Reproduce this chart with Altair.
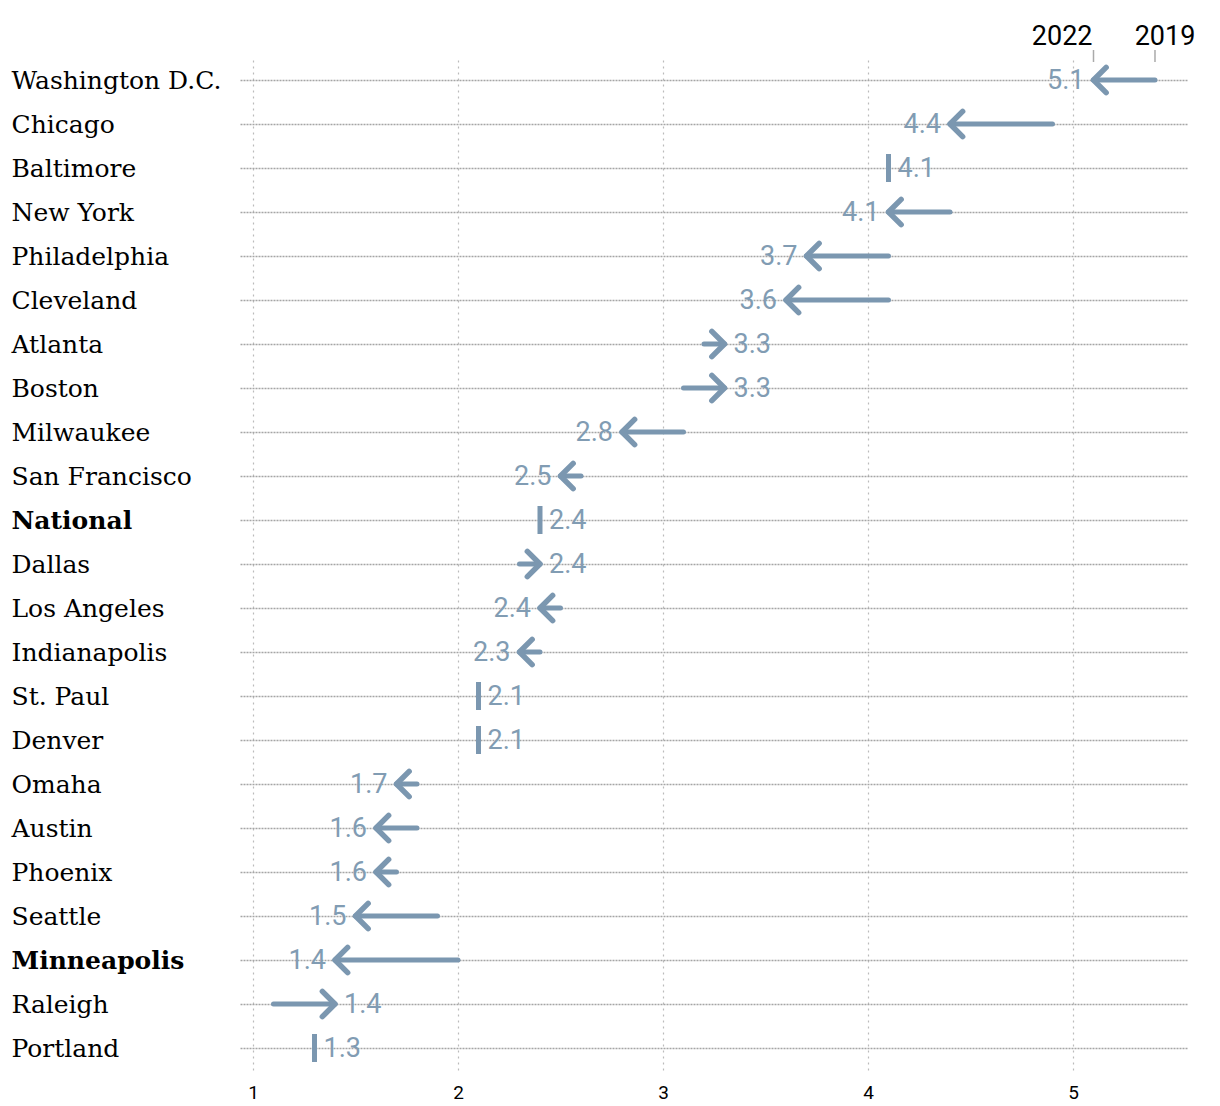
import altair as alt
import pandas as pd

cities = ["Washington D.C.", "Chicago", "Baltimore", "New York", "Philadelphia",
          "Cleveland", "Atlanta", "Boston", "Milwaukee", "San Francisco",
          "National", "Dallas", "Los Angeles", "Indianapolis", "St. Paul",
          "Denver", "Omaha", "Austin", "Phoenix", "Seattle", "Minneapolis",
          "Raleigh", "Portland"]
v2019 = [5.4, 4.9, 4.1, 4.4, 4.1, 4.1, 3.2, 3.1, 3.1, 2.6, 2.4, 2.3, 2.5, 2.4,
         2.1, 2.1, 1.8, 1.8, 1.7, 1.9, 2.0, 1.1, 1.3]
v2022 = [5.1, 4.4, 4.1, 4.1, 3.7, 3.6, 3.3, 3.3, 2.8, 2.5, 2.4, 2.4, 2.4, 2.3,
         2.1, 2.1, 1.7, 1.6, 1.6, 1.5, 1.4, 1.4, 1.3]
bold_rows = ["National", "Minneapolis"]
x_ticks = [1, 2, 3, 4, 5]
legend_years = ["2022", "2019"]

df = pd.DataFrame({"city": cities, "start": v2019, "end": v2022})
df["dir"] = ["down" if e < s else ("up" if e > s else "same") for s, e in zip(v2019, v2022)]

legend_df = pd.DataFrame({
    "year": legend_years,
    "x": [v2022[0], v2019[0]],
})

ARROW = "#7b97b0"
LABEL = "#819cb3"
W, H = 948, 1012

x_scale = alt.Scale(domain=[0.9366, 5.561], nice=False, zero=False)
y_scale = alt.Scale(type="point", padding=0.5, domain=cities)

bold_expr = "indexof(['" + "','".join(bold_rows) + "'], datum.value) >= 0 ? 'bold' : 'normal'"

base = alt.Chart(df)

rows = base.mark_rule(strokeWidth=5, strokeCap="round", color=ARROW).encode(
    x=alt.X("start:Q", scale=x_scale,
            axis=alt.Axis(values=x_ticks, format="d", grid=True, gridDash=[2, 4],
                          gridColor="#bbbbbb", gridWidth=1.2, domain=False, ticks=False,
                          tickSize=0, labelPadding=13, labelFontSize=19, labelColor="black",
                          labelFont="Roboto", title=None, orient="bottom")),
    x2="end:Q",
    y=alt.Y("city:N", scale=y_scale, sort=cities,
            axis=alt.Axis(grid=True, gridDash=[2, 1], gridColor="#a5a5a5", gridWidth=1.3,
                          domain=False, ticks=False, tickSize=0, labelAlign="left",
                          labelPadding=229, labelFont="DejaVu Serif", labelFontSize=25,
                          labelColor="black", labelLimit=400,
                          labelFontWeight={"expr": bold_expr}, title=None)),
).transform_filter("datum.dir != 'same'")

left_head = base.mark_point(shape="M1,-1L0,0L1,1", size=640, filled=False, stroke=ARROW,
                            strokeWidth=5.5, strokeCap="round", strokeJoin="round",
                            opacity=1).encode(
    x=alt.X("end:Q", scale=x_scale), y=alt.Y("city:N", scale=y_scale, sort=cities)
).transform_filter("datum.dir == 'down'")

right_head = base.mark_point(shape="M-1,-1L0,0L-1,1", size=640, filled=False, stroke=ARROW,
                             strokeWidth=5.5, strokeCap="round", strokeJoin="round",
                             opacity=1).encode(
    x=alt.X("end:Q", scale=x_scale), y=alt.Y("city:N", scale=y_scale, sort=cities)
).transform_filter("datum.dir == 'up'")

bars = base.mark_tick(thickness=5, size=28, color=ARROW, opacity=1).encode(
    x=alt.X("end:Q", scale=x_scale), y=alt.Y("city:N", scale=y_scale, sort=cities)
).transform_filter("datum.dir == 'same'")

lab_left = base.mark_text(align="right", baseline="middle", dx=-9, dy=1, font="Roboto",
                          fontSize=27, color=LABEL).encode(
    x=alt.X("end:Q", scale=x_scale), y=alt.Y("city:N", scale=y_scale, sort=cities),
    text=alt.Text("end:Q", format=".1f")
).transform_filter("datum.dir == 'down'")

lab_right = base.mark_text(align="left", baseline="middle", dx=9, dy=1, font="Roboto",
                           fontSize=27, color=LABEL).encode(
    x=alt.X("end:Q", scale=x_scale), y=alt.Y("city:N", scale=y_scale, sort=cities),
    text=alt.Text("end:Q", format=".1f")
).transform_filter("datum.dir != 'down'")

leg = alt.Chart(legend_df)
leg_ticks = leg.mark_rule(color="#aaaaaa", strokeWidth=1.5).encode(
    x=alt.X("x:Q", scale=x_scale), y=alt.value(-8), y2=alt.value(4)
)
leg_2022 = leg.mark_text(align="right", baseline="alphabetic", dx=-1, font="Roboto",
                         fontSize=27, color="black").encode(
    x=alt.X("x:Q", scale=x_scale), y=alt.value(-13), text="year:N"
).transform_filter("datum.year == '2022'")
leg_2019 = leg.mark_text(align="center", baseline="alphabetic", dx=10, font="Roboto",
                         fontSize=27, color="black").encode(
    x=alt.X("x:Q", scale=x_scale), y=alt.value(-13), text="year:N"
).transform_filter("datum.year == '2019'")

chart = alt.layer(rows, left_head, right_head, bars, lab_left, lab_right,
                  leg_ticks, leg_2022, leg_2019).properties(
    width=W, height=H,
    autosize=alt.AutoSizeParams(type="none"),
    padding={"left": 232, "top": 50, "right": 24, "bottom": 40},
).configure(background="white").configure_view(strokeWidth=0, stroke="transparent")

chart.save("out.html", embed_options={"renderer": "svg", "actions": False})
